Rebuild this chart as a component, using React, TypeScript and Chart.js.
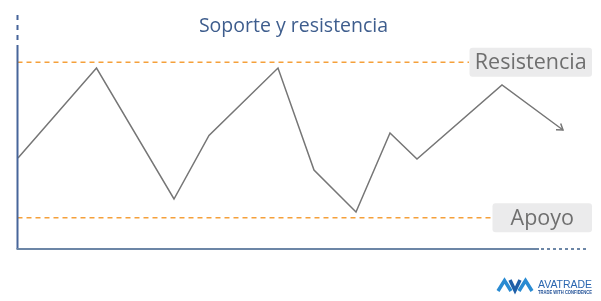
import React, { useEffect, useRef } from "react";
import { Chart, registerables } from "chart.js";
Chart.register(...registerables);

// Data (chart units: x = time, y = price)
const timeX = [0.5, 79, 156.5, 191.5, 260.5, 296.5, 338.5, 372.5, 399.5, 484.5, 545.5];
const price = [91, 181, 50, 113.5, 181, 79, 37, 116, 90, 164, 119];
const resistanceLevel = 186.7;
const supportLevel = 31.3;
const resistanceEnd = 451.5;
const supportEnd = 474.5;
const xMax = 572.5;
const yMax = 235;
const yAxisSolidFrom = 202;
const xAxisSolidTo = 521.5;
const xAxisDashedTo = 570.5;
const titleText = "Soporte y resistencia";
const resistanceLabel = "Resistencia";
const supportLabel = "Apoyo";
const brandText = "AVATRADE";
const brandTagline = "TRADE WITH CONFIDENCE";

const overlayPlugin = {
  id: "overlay",
  afterDraw(chart: any) {
    const { ctx, scales } = chart;
    const xs = scales.x;
    const ys = scales.y;
    ctx.save();

    // Title
    ctx.fillStyle = "#3e5d8d";
    ctx.font = "19.5px 'Open Sans'";
    ctx.textAlign = "center";
    ctx.textBaseline = "alphabetic";
    ctx.fillText(titleText, 293.5, 31.5);

    // Axes
    const x0 = xs.getPixelForValue(0);
    const yBottom = ys.getPixelForValue(0);
    ctx.strokeStyle = "#47659a";
    ctx.lineWidth = 2;
    ctx.beginPath();
    ctx.moveTo(x0, ys.getPixelForValue(yAxisSolidFrom));
    ctx.lineTo(x0, yBottom);
    ctx.stroke();
    ctx.setLineDash([5, 5]);
    ctx.beginPath();
    ctx.moveTo(x0, ys.getPixelForValue(yMax) + 1);
    ctx.lineTo(x0, ys.getPixelForValue(yAxisSolidFrom));
    ctx.stroke();
    ctx.setLineDash([]);
    ctx.strokeStyle = "#6c86a6";
    ctx.beginPath();
    ctx.moveTo(x0 - 1, yBottom);
    ctx.lineTo(xs.getPixelForValue(xAxisSolidTo), yBottom);
    ctx.stroke();
    ctx.setLineDash([3, 3]);
    ctx.beginPath();
    ctx.moveTo(xs.getPixelForValue(xAxisSolidTo) + 2, yBottom);
    ctx.lineTo(xs.getPixelForValue(xAxisDashedTo), yBottom);
    ctx.stroke();
    ctx.setLineDash([]);

    // Arrow head at end of price line
    const n = timeX.length;
    const px1 = xs.getPixelForValue(timeX[n - 2]);
    const py1 = ys.getPixelForValue(price[n - 2]);
    const px2 = xs.getPixelForValue(timeX[n - 1]);
    const py2 = ys.getPixelForValue(price[n - 1]);
    const ang = Math.atan2(py2 - py1, px2 - px1);
    const L = 7;
    ctx.strokeStyle = "#767676";
    ctx.lineWidth = 1.5;
    ctx.beginPath();
    ctx.moveTo(px2 - L * Math.cos(ang - 0.6), py2 - L * Math.sin(ang - 0.6));
    ctx.lineTo(px2, py2);
    ctx.lineTo(px2 - L * Math.cos(ang + 0.6), py2 - L * Math.sin(ang + 0.6));
    ctx.stroke();

    // Level labels
    const drawLabel = (text: string, level: number, startVal: number) => {
      const left = xs.getPixelForValue(startVal) + 0.5;
      const right = 592;
      const cy = ys.getPixelForValue(level);
      const top = cy - 14.5;
      const h = 29;
      ctx.fillStyle = "#ebebec";
      ctx.beginPath();
      (ctx as any).roundRect(left, top, right - left, h, 3);
      ctx.fill();
      ctx.fillStyle = "#6f6f6f";
      ctx.font = "21.5px 'Open Sans'";
      ctx.textAlign = "center";
      ctx.textBaseline = "middle";
      ctx.fillText(text, (left + right) / 2, cy + 1);
    };
    drawLabel(resistanceLabel, resistanceLevel, resistanceEnd);
    drawLabel(supportLabel, supportLevel, supportEnd);

    // Brand logo
    ctx.lineWidth = 3.5;
    ctx.lineJoin = "miter";
    ctx.strokeStyle = "#2a8bd2";
    ctx.beginPath();
    ctx.moveTo(498, 291);
    ctx.lineTo(504.5, 280.5);
    ctx.lineTo(511, 291);
    ctx.stroke();
    ctx.strokeStyle = "#1f5fa8";
    ctx.beginPath();
    ctx.moveTo(510, 280);
    ctx.lineTo(515, 290.5);
    ctx.lineTo(520, 280);
    ctx.stroke();
    ctx.strokeStyle = "#2a8bd2";
    ctx.beginPath();
    ctx.moveTo(519, 291);
    ctx.lineTo(525.5, 280.5);
    ctx.lineTo(532, 291);
    ctx.stroke();
    ctx.fillStyle = "#2a66b0";
    ctx.font = "11.5px 'Liberation Sans'";
    ctx.textAlign = "left";
    ctx.textBaseline = "alphabetic";
    ctx.fillText(brandText, 538, 288, 54);
    ctx.font = "bold 5px 'Liberation Sans'";
    ctx.fillStyle = "#1f4f96";
    ctx.fillText(brandTagline, 538, 293.5, 54);

    ctx.restore();
  },
};

export default function App() {
  const ref = useRef<HTMLCanvasElement>(null);
  useEffect(() => {
    if (!ref.current) return;
    const chart = new Chart(ref.current, {
      type: "line",
      data: {
        datasets: [
          {
            data: timeX.map((x, i) => ({ x, y: price[i] })),
            borderColor: "#767676",
            borderWidth: 1.5,
            pointRadius: 0,
            tension: 0,
            fill: false,
          },
          {
            data: [
              { x: 0, y: resistanceLevel },
              { x: resistanceEnd, y: resistanceLevel },
            ],
            borderColor: "#f5a03a",
            borderWidth: 1.5,
            borderDash: [5, 4],
            pointRadius: 0,
            fill: false,
          },
          {
            data: [
              { x: 0, y: supportLevel },
              { x: supportEnd, y: supportLevel },
            ],
            borderColor: "#f5a03a",
            borderWidth: 1.5,
            borderDash: [5, 4],
            pointRadius: 0,
            fill: false,
          },
        ],
      },
      options: {
        responsive: false,
        animation: false,
        layout: { padding: { left: 17.5, right: 11, top: 14, bottom: 52 } },
        scales: {
          x: { type: "linear", min: 0, max: xMax, display: false },
          y: { type: "linear", min: 0, max: yMax, display: false },
        },
        plugins: { legend: { display: false }, tooltip: { enabled: false }, title: { display: false } },
      },
      plugins: [overlayPlugin],
    });
    return () => chart.destroy();
  }, []);
  return (
    <div style={{ position: "absolute", left: 0, top: 0, width: 601, height: 301, background: "#fff" }}>
      <canvas ref={ref} width={601} height={301} style={{ display: "block" }} />
    </div>
  );
}
